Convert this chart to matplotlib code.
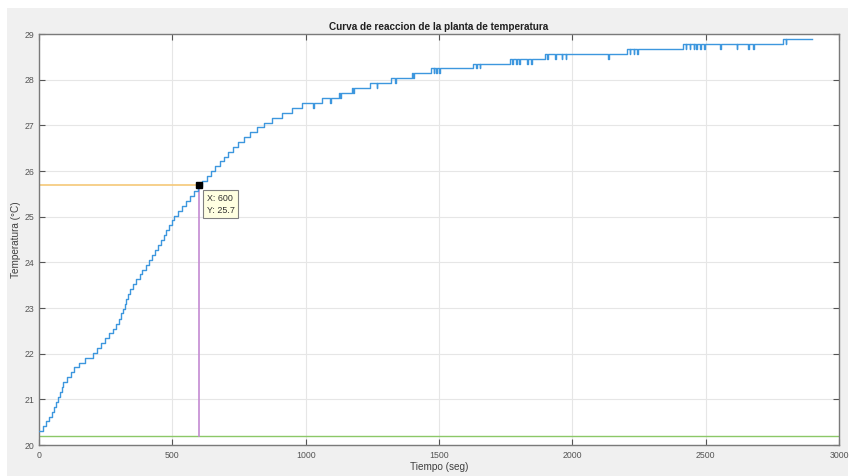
import matplotlib
matplotlib.use("Agg")
import matplotlib.pyplot as plt
from matplotlib.patches import Rectangle

plt.rcParams['font.family'] = ['Liberation Sans', 'DejaVu Sans']

# ---------------- data ----------------
title = "Curva de reaccion de la planta de temperatura"
xlabel = "Tiempo (seg)"
ylabel = "Temperatura (°C)"

# staircase record: time (s) where each sample level starts, and the level (°C)
time_s = [0, 14, 25, 36, 47, 58, 65, 72, 78, 85, 91, 105, 119, 132, 150, 172,
          204, 218, 234, 249, 264, 276, 287, 299, 308, 314, 321, 328, 335, 341,
          353, 365, 377, 388, 400, 412, 424, 436, 448, 459, 468, 478, 487, 497,
          507, 521, 536, 551, 565, 581, 597, 613, 629, 645, 661, 677, 692, 709,
          728, 747, 768, 793, 818, 843, 873, 910, 947, 988,
          1029, 1032, 1062, 1091, 1094, 1125, 1129, 1132, 1175, 1178, 1181,
          1240, 1266, 1269, 1320, 1335, 1338, 1400, 1404, 1407,
          1470, 1480, 1483, 1490, 1493, 1500, 1503,
          1629, 1640, 1643, 1652, 1655,
          1766, 1775, 1778, 1790, 1793, 1800, 1803, 1830, 1833, 1845, 1848,
          1898, 1905, 1908, 1935, 1938, 1960, 1963, 1975, 1978, 2135, 2138,
          2204, 2215, 2218, 2230, 2233, 2243, 2246,
          2416, 2425, 2428, 2440, 2443, 2455, 2458, 2465, 2468, 2480, 2483,
          2495, 2498, 2554, 2557, 2616, 2619, 2659, 2662, 2679, 2682,
          2791, 2800, 2803, 2900]
temp_c = [20.30, 20.41, 20.52, 20.62, 20.73, 20.84, 20.94, 21.05, 21.16, 21.27,
          21.37, 21.48, 21.59, 21.70, 21.80, 21.91,
          22.02, 22.12, 22.23, 22.34, 22.45, 22.55, 22.66, 22.77, 22.88, 22.98,
          23.09, 23.20, 23.31, 23.41,
          23.52, 23.63, 23.74, 23.84, 23.95, 24.06, 24.17, 24.27, 24.38, 24.49,
          24.59, 24.70, 24.81, 24.92,
          25.02, 25.13, 25.24, 25.35, 25.45, 25.56, 25.67, 25.78, 25.88, 25.99,
          26.10, 26.21, 26.31, 26.42,
          26.53, 26.64, 26.74, 26.85, 26.96, 27.06, 27.17, 27.28, 27.39, 27.49,
          27.39, 27.49, 27.60, 27.49, 27.60, 27.71, 27.60, 27.71, 27.82, 27.71, 27.82,
          27.92, 27.82, 27.92, 28.03, 27.92, 28.03, 28.14, 28.03, 28.14,
          28.25, 28.14, 28.25, 28.14, 28.25, 28.14, 28.25,
          28.35, 28.25, 28.35, 28.25, 28.35,
          28.46, 28.35, 28.46, 28.35, 28.46, 28.35, 28.46, 28.35, 28.46, 28.35, 28.46,
          28.57, 28.46, 28.57, 28.46, 28.57, 28.46, 28.57, 28.46, 28.57, 28.46, 28.57,
          28.68, 28.57, 28.68, 28.57, 28.68, 28.57, 28.68,
          28.78, 28.68, 28.78, 28.68, 28.78, 28.68, 28.78, 28.68, 28.78, 28.68, 28.78,
          28.68, 28.78, 28.68, 28.78, 28.68, 28.78, 28.68, 28.78, 28.68, 28.78,
          28.89, 28.78, 28.89, 28.89]

baseline_c = 20.2          # green reference line
tip_x = 600                # data tip
tip_y = 25.7
tip_text = "X: 600\nY: 25.7"

xticks = [0, 500, 1000, 1500, 2000, 2500, 3000]
yticks = [20, 21, 22, 23, 24, 25, 26, 27, 28, 29]

# ---------------- figure ----------------
W, H = 852, 476
fig = plt.figure(figsize=(W / 100, H / 100), dpi=100, facecolor='white')
fig.patches.append(Rectangle((7 / W, 0), (848 - 7) / W, 1 - 8 / H,
                             transform=fig.transFigure, facecolor='#f0f0f0',
                             edgecolor='none', zorder=-10))

ax = fig.add_axes([39 / W, 1 - 445 / H, (839 - 39) / W, (445 - 34) / H])
ax.set_facecolor('white')

ax.axhline(baseline_c, color='#8cc868', lw=1.0, zorder=2)
ax.plot([0, tip_x], [tip_y, tip_y], color='#f5c878', lw=1.2, zorder=2)
ax.plot([tip_x, tip_x], [baseline_c, tip_y], color='#c48ad2', lw=1.2, zorder=2)
ax.plot(time_s, temp_c, drawstyle='steps-post', color='#3d97de', lw=1.0, zorder=3)
ax.plot([tip_x], [tip_y], marker='s', ms=4.5, color='black', zorder=5)

ax.annotate(tip_text, xy=(tip_x, tip_y), xytext=(5.5, -6.5),
            textcoords='offset points', ha='left', va='top', fontsize=6.4,
            color='#303030', linespacing=1.45,
            bbox=dict(boxstyle='square,pad=0.4', fc='#ffffe1', ec='#808080', lw=0.8),
            zorder=6)

ax.set_xlim(0, 3000)
ax.set_ylim(20, 29)
ax.set_xticks(xticks)
ax.set_yticks(yticks)
ax.tick_params(direction='in', length=4, width=0.8, colors='#555555',
               labelsize=6.3, top=True, right=True, pad=3)
ax.tick_params(axis='x', pad=4)
ax.grid(True, color='#e6e6e6', lw=0.8)
ax.set_axisbelow(True)
for s in ax.spines.values():
    s.set_color('#7a7a7a')
    s.set_linewidth(1.0)

ax.set_title(title, fontsize=7.2, fontweight='bold', color='#202020', pad=3)
ax.set_xlabel(xlabel, fontsize=7.2, color='#404040', labelpad=2)
ax.set_ylabel(ylabel, fontsize=7.2, color='#404040', labelpad=3)

fig.savefig('out.png', dpi=100, facecolor=fig.get_facecolor())
